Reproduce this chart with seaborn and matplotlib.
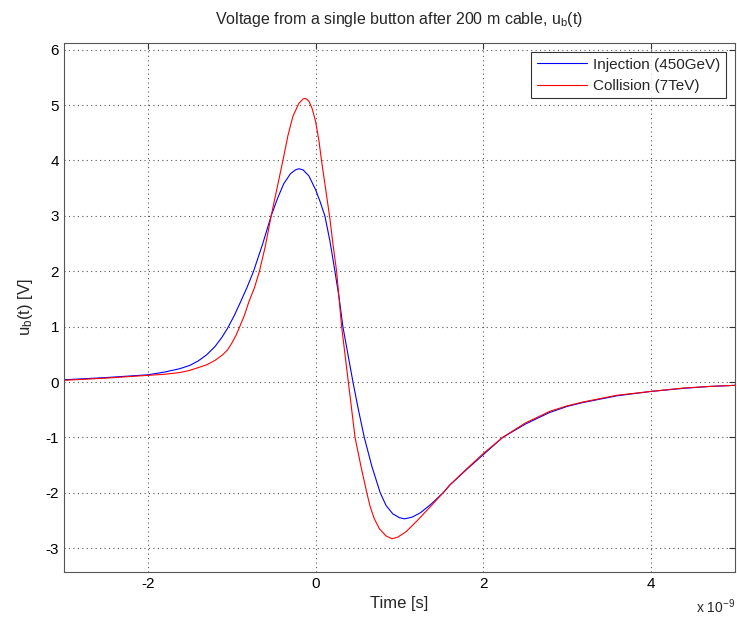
import numpy as np
import pandas as pd
import matplotlib
matplotlib.use("Agg")
import matplotlib.pyplot as plt
import seaborn as sns

# Time in units of 1e-9 s
inj_t = [-3.0, -2.5, -2.0, -1.8, -1.62, -1.5, -1.4, -1.3, -1.2, -1.12, -1.05, -0.97,
         -0.9, -0.82, -0.74, -0.63, -0.53, -0.45, -0.38, -0.3, -0.24, -0.2, -0.15,
         -0.08, 0.0, 0.05, 0.11, 0.17, 0.23, 0.28, 0.325, 0.385, 0.445, 0.51, 0.58,
         0.67, 0.77, 0.84, 0.92, 1.0, 1.06, 1.15, 1.25, 1.38, 1.52, 1.6, 1.8, 2.0,
         2.23, 2.5, 2.79, 3.0, 3.19, 3.59, 4.0, 4.38, 4.7, 5.0]
inj_v = [0.04, 0.08, 0.13, 0.18, 0.24, 0.3, 0.38, 0.49, 0.64, 0.8, 0.97, 1.2,
         1.43, 1.7, 2.0, 2.5, 3.0, 3.33, 3.58, 3.76, 3.83, 3.85, 3.83,
         3.72, 3.47, 3.27, 3.0, 2.55, 2.0, 1.52, 1.0, 0.5, 0.0, -0.5, -1.0,
         -1.52, -2.0, -2.23, -2.38, -2.45, -2.47, -2.44, -2.36, -2.2, -2.0, -1.86, -1.58, -1.31,
         -1.0, -0.76, -0.55, -0.44, -0.37, -0.25, -0.17, -0.115, -0.08, -0.06]

col_t = [-3.0, -2.5, -2.0, -1.8, -1.62, -1.5, -1.4, -1.3, -1.2, -1.11, -1.05, -1.0,
         -0.95, -0.91, -0.85, -0.8, -0.73, -0.67, -0.6, -0.53, -0.46, -0.39, -0.33,
         -0.27, -0.2, -0.15, -0.12, -0.08, -0.04, 0.0, 0.04, 0.07, 0.12, 0.17, 0.21,
         0.25, 0.28, 0.31, 0.35, 0.39, 0.43, 0.47, 0.54, 0.61, 0.65, 0.7, 0.76,
         0.84, 0.91, 0.98, 1.08, 1.2, 1.35, 1.52, 1.6, 1.8, 2.0, 2.23, 2.5, 2.79,
         3.0, 3.19, 3.59, 4.0, 4.38, 4.7, 5.0]
col_v = [0.03, 0.07, 0.12, 0.14, 0.17, 0.21, 0.26, 0.31, 0.39, 0.49, 0.58, 0.7,
         0.84, 0.98, 1.2, 1.43, 1.7, 2.0, 2.45, 3.0, 3.5, 4.0, 4.45,
         4.8, 5.03, 5.11, 5.12, 5.07, 4.93, 4.7, 4.35, 4.0, 3.48, 2.95, 2.45,
         2.0, 1.5, 1.0, 0.5, 0.0, -0.5, -1.0, -1.52, -2.0, -2.25, -2.47, -2.65,
         -2.78, -2.83, -2.8, -2.7, -2.52, -2.28, -2.0, -1.86, -1.57, -1.29, -1.0, -0.74, -0.53,
         -0.43, -0.36, -0.24, -0.17, -0.11, -0.08, -0.06]

series_names = ["Injection (450GeV)", "Collision (7TeV)"]
series_colors = ["#0000ff", "#ff0000"]

df = pd.concat([
    pd.DataFrame({"t": inj_t, "v": inj_v, "series": series_names[0]}),
    pd.DataFrame({"t": col_t, "v": col_v, "series": series_names[1]}),
], ignore_index=True)

sns.set_style("white")
plt.rcParams["font.family"] = ["Liberation Sans", "DejaVu Sans"]
plt.rcParams["mathtext.fontset"] = "custom"
plt.rcParams["mathtext.rm"] = "Liberation Sans"
plt.rcParams["mathtext.it"] = "Liberation Sans"

fig = plt.figure(figsize=(7.37, 6.22), dpi=100)
ax = fig.add_axes([64 / 737, 1 - 572 / 622, (735 - 64) / 737, (572 - 43) / 622])

sns.lineplot(data=df, x="t", y="v", hue="series", palette=series_colors,
             sort=False, estimator=None, linewidth=0.8, ax=ax)

ax.set_xlim(-3, 5)
ax.set_ylim(-3.43, 6.12)
ax.set_xticks([-2, 0, 2, 4])
ax.set_xticklabels(["-2", "0", "2", "4"])
ax.set_yticks(list(range(-3, 7)))
ax.set_yticklabels([str(v) for v in range(-3, 7)])
ax.tick_params(direction="in", length=4, width=0.8, colors="#333333",
               labelcolor="black", labelsize=11, top=True, right=True)
ax.grid(True, linestyle=(0, (1, 3)), color="#555555", linewidth=0.8)
for s in ax.spines.values():
    s.set_color("#555555")
    s.set_linewidth(0.8)

ax.set_xlabel("Time [s]", fontsize=12, labelpad=4)
ax.set_ylabel("u$_\\mathrm{b}$(t) [V]", fontsize=12, labelpad=8)
ax.set_title("Voltage from a single button after 200 m cable, u$_\\mathrm{b}$(t)",
             fontsize=11.5, pad=14)
fig.text(735 / 737, 1 - 607 / 622, "x 10$^{-9}$", ha="right", va="center", fontsize=10)

leg = ax.legend(loc="upper right", fontsize=11, frameon=True, fancybox=False,
                handlelength=3.3, borderaxespad=0.6, borderpad=0.35, labelspacing=0.5,
                handletextpad=0.4)
leg.get_frame().set_edgecolor("black")
leg.get_frame().set_linewidth(0.8)
for line in leg.get_lines():
    line.set_linewidth(0.8)

fig.savefig("out.png", dpi=100)
